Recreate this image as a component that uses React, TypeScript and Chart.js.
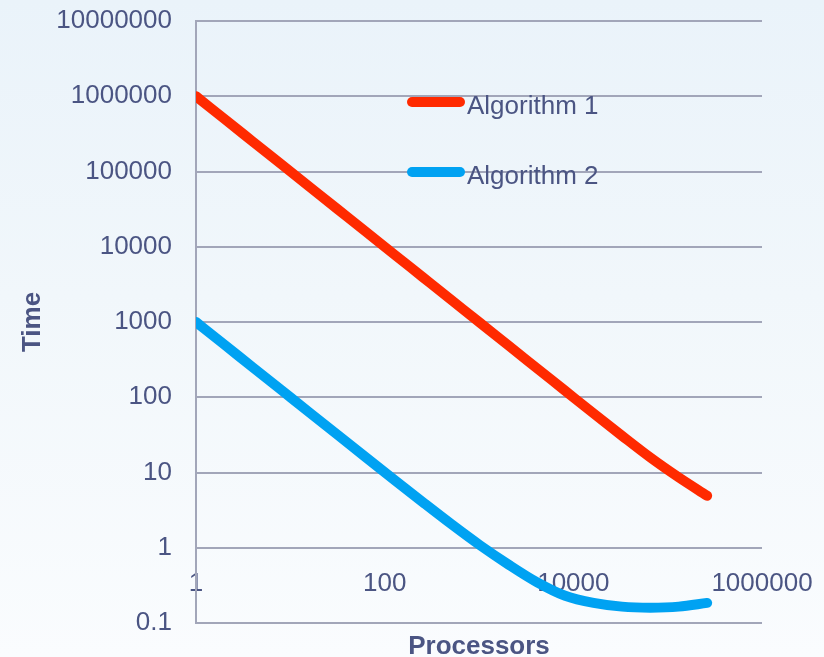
import React, { useEffect, useRef } from "react";
import { Chart, registerables } from "chart.js";

Chart.register(...registerables);

// Number of processors (powers of two, 1 .. 262144)
const processors = [
  1, 2, 4, 8, 16, 32, 64, 128, 256, 512, 1024, 2048, 4096, 8192, 16384, 32768,
  65536, 131072, 262144,
];

// Running time of each algorithm for the processor counts above
const algorithm1 = [
  1000000, 500000, 250000, 125000, 62500, 31250, 15625, 7813, 3906, 1953, 977,
  488, 244, 122, 61, 30.8, 15.8, 8.6, 4.9,
];
const algorithm2 = [
  1000, 500, 250, 125, 62.5, 31.3, 15.7, 7.9, 4.0, 2.05, 1.08, 0.6, 0.35, 0.23,
  0.185, 0.165, 0.16, 0.165, 0.185,
];

const seriesNames = ["Algorithm 1", "Algorithm 2"];
const seriesColors = ["#ff2a00", "#00a2f2"];

// Axis tick labels
const xTicks = [1, 100, 10000, 1000000];
const yTicks = [0.1, 1, 10, 100, 1000, 10000, 100000, 1000000, 10000000];

const TEXT = "#4b5583";
const GRID = "#a2a6b9";
const FONT = "'Liberation Sans', Arial, sans-serif";

const legendPlugin = {
  id: "inlineLegend",
  afterDatasetsDraw(chart: any) {
    const { ctx, chartArea } = chart;
    const x0 = chartArea.left + 211;
    const rows = [chartArea.top + 81, chartArea.top + 151];
    ctx.save();
    seriesNames.forEach((name, i) => {
      const y = rows[i];
      ctx.strokeStyle = seriesColors[i];
      ctx.lineWidth = 10;
      ctx.lineCap = "round";
      ctx.beginPath();
      ctx.moveTo(x0 + 5, y);
      ctx.lineTo(x0 + 53, y);
      ctx.stroke();
      ctx.fillStyle = TEXT;
      ctx.font = `26px ${FONT}`;
      ctx.textAlign = "left";
      ctx.textBaseline = "middle";
      ctx.fillText(name, x0 + 60, y + 5);
    });
    ctx.restore();
  },
};

export default function App() {
  const canvasRef = useRef<HTMLCanvasElement | null>(null);

  useEffect(() => {
    const canvas = canvasRef.current;
    if (!canvas) return;
    const toPoints = (vals: number[]) =>
      vals.map((v, i) => ({ x: processors[i], y: v }));

    const chart = new Chart(canvas, {
      type: "line",
      data: {
        datasets: [algorithm1, algorithm2].map((vals, i) => ({
          label: seriesNames[i],
          data: toPoints(vals),
          borderColor: seriesColors[i],
          backgroundColor: seriesColors[i],
          borderWidth: 10,
          borderCapStyle: "round",
          borderJoinStyle: "round",
          pointRadius: 0,
          cubicInterpolationMode: "monotone",
          fill: false,
        })),
      },
      options: {
        animation: false,
        responsive: false,
        maintainAspectRatio: false,
        layout: { padding: { top: 21, right: 62, bottom: 0, left: 0 } },
        plugins: {
          legend: { display: false },
          tooltip: { enabled: false },
        },
        scales: {
          x: {
            type: "logarithmic",
            position: "bottom",
            min: 1,
            max: 1000000,
            afterBuildTicks: (scale: any) => {
              scale.ticks = xTicks.map((v) => ({ value: v }));
            },
            afterFit: (scale: any) => {
              scale.height = 34;
              scale.paddingLeft = 0;
              scale.paddingRight = 0;
            },
            grid: { display: false, drawTicks: false },
            border: { display: false },
            ticks: {
              mirror: true,
              padding: 24,
              maxRotation: 0,
              autoSkip: false,
              color: TEXT,
              font: { family: FONT, size: 26 },
              callback: (v: any) => String(v),
            },
            title: {
              display: true,
              text: "Processors",
              color: TEXT,
              font: { family: FONT, size: 26, weight: "bold" },
              padding: { top: 0, bottom: -5 },
            },
          },
          y: {
            type: "logarithmic",
            min: 0.1,
            max: 10000000,
            afterBuildTicks: (scale: any) => {
              scale.ticks = yTicks.map((v) => ({ value: v }));
            },
            afterFit: (scale: any) => {
              scale.width = 196;
              scale.paddingTop = 0;
              scale.paddingBottom = 0;
            },
            grid: { color: GRID, lineWidth: 2, drawTicks: false },
            border: { display: true, color: GRID, width: 2 },
            ticks: {
              padding: 24,
              autoSkip: false,
              color: TEXT,
              font: { family: FONT, size: 26 },
              callback: (v: any) => String(v),
            },
            title: {
              display: true,
              text: "Time",
              color: TEXT,
              font: { family: FONT, size: 26, weight: "bold" },
              padding: { top: 17, bottom: 0 },
            },
          },
        },
      } as any,
      plugins: [legendPlugin],
    });
    return () => chart.destroy();
  }, []);

  return (
    <div
      style={{
        position: "fixed",
        left: 0,
        top: 0,
        width: 824,
        height: 657,
        background: "linear-gradient(180deg, #eaf3fa 0%, #f1f7fb 45%, #fafcfe 100%)",
      }}
    >
      <canvas ref={canvasRef} width={824} height={657} style={{ display: "block" }} />
    </div>
  );
}
